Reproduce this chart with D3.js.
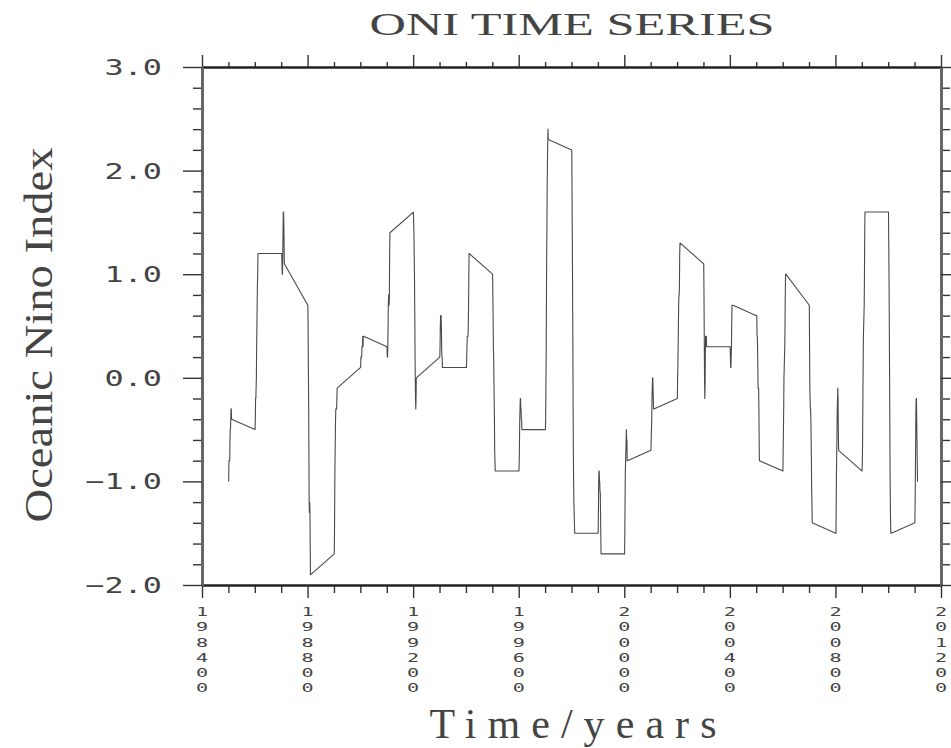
<!DOCTYPE html>
<html>
<head>
<meta charset="utf-8">
<script src="https://cdn.jsdelivr.net/npm/d3@7"></script>
<style>
  body { margin: 0; background: #fff; }
  svg { display: block; }
</style>
</head>
<body>
<div id="oniViz"></div>
<script>
// years plotted, one row of monthly ONI values per year (x = YYYYMM)
const years = [1985, 1986, 1987, 1988, 1989, 1990, 1991, 1992, 1993, 1994,
  1995, 1996, 1997, 1998, 1999, 2000, 2001, 2002, 2003, 2004,
  2005, 2006, 2007, 2008, 2009, 2010, 2011];

const oniMonthly = [
  [-1.0, -0.8, -0.8, -0.8, -0.8, -0.6, -0.5, -0.5, -0.4, -0.3, -0.3, -0.4], // 1985
  [-0.5, -0.4, -0.2, -0.2, -0.1, 0.0, 0.3, 0.5, 0.7, 0.9, 1.0, 1.2],
  [1.2, 1.2, 1.1, 1.0, 1.0, 1.2, 1.4, 1.6, 1.6, 1.5, 1.3, 1.1],
  [0.7, 0.5, 0.1, -0.2, -0.7, -1.2, -1.3, -1.2, -1.3, -1.6, -1.9, -1.9],
  [-1.7, -1.5, -1.1, -0.8, -0.6, -0.4, -0.3, -0.3, -0.3, -0.3, -0.2, -0.1],
  [0.1, 0.2, 0.2, 0.2, 0.2, 0.3, 0.3, 0.3, 0.4, 0.3, 0.4, 0.4], // 1990
  [0.3, 0.2, 0.2, 0.3, 0.5, 0.7, 0.8, 0.7, 0.7, 0.8, 1.2, 1.4],
  [1.6, 1.5, 1.4, 1.2, 1.0, 0.7, 0.3, 0.0, -0.2, -0.3, -0.2, 0.0],
  [0.2, 0.3, 0.5, 0.6, 0.6, 0.6, 0.5, 0.3, 0.2, 0.2, 0.1, 0.1],
  [0.1, 0.1, 0.2, 0.3, 0.4, 0.4, 0.4, 0.4, 0.5, 0.7, 1.0, 1.2],
  [1.0, 0.8, 0.6, 0.3, 0.2, 0.0, -0.2, -0.4, -0.7, -0.8, -0.9, -0.9], // 1995
  [-0.9, -0.8, -0.6, -0.4, -0.3, -0.2, -0.2, -0.3, -0.3, -0.4, -0.4, -0.5],
  [-0.5, -0.4, -0.1, 0.2, 0.7, 1.2, 1.5, 1.9, 2.1, 2.3, 2.4, 2.3],
  [2.2, 1.8, 1.4, 0.9, 0.4, -0.2, -0.7, -1.0, -1.2, -1.3, -1.4, -1.5],
  [-1.5, -1.3, -1.0, -0.9, -0.9, -1.0, -1.0, -1.1, -1.1, -1.3, -1.5, -1.7],
  [-1.7, -1.5, -1.2, -0.9, -0.8, -0.7, -0.6, -0.5, -0.6, -0.6, -0.8, -0.8], // 2000
  [-0.7, -0.6, -0.5, -0.4, -0.2, -0.1, 0.0, 0.0, -0.1, -0.2, -0.3, -0.3],
  [-0.2, 0.0, 0.1, 0.3, 0.5, 0.7, 0.8, 0.8, 0.9, 1.2, 1.3, 1.3],
  [1.1, 0.8, 0.4, 0.0, -0.2, -0.1, 0.2, 0.4, 0.4, 0.4, 0.4, 0.3],
  [0.3, 0.2, 0.1, 0.1, 0.2, 0.3, 0.5, 0.7, 0.7, 0.7, 0.7, 0.7],
  [0.6, 0.6, 0.4, 0.4, 0.3, 0.1, -0.1, -0.1, -0.1, -0.3, -0.6, -0.8], // 2005
  [-0.9, -0.7, -0.5, -0.3, 0.0, 0.1, 0.2, 0.3, 0.5, 0.8, 1.0, 1.0],
  [0.7, 0.3, -0.1, -0.2, -0.3, -0.3, -0.4, -0.6, -0.8, -1.1, -1.2, -1.4],
  [-1.5, -1.5, -1.2, -0.9, -0.7, -0.5, -0.3, -0.2, -0.1, -0.2, -0.5, -0.7],
  [-0.9, -0.8, -0.6, -0.2, 0.1, 0.4, 0.5, 0.6, 0.7, 1.0, 1.4, 1.6],
  [1.6, 1.3, 1.0, 0.6, 0.1, -0.4, -0.9, -1.2, -1.4, -1.5, -1.5, -1.5], // 2010
  [-1.4, -1.2, -0.9, -0.6, -0.3, -0.2, -0.2, -0.4, -0.6, -0.8, -1.0, -1.0]
];

const xMajorTicks = [198400, 198800, 199200, 199600, 200000, 200400, 200800, 201200];
const xTickLabels = ["198400", "198800", "199200", "199600", "200000", "200400", "200800", "201200"];
const yMajorTicks = [-2, -1, 0, 1, 2, 3];
const yTickLabels = ["\u22122.0", "\u22121.0", "0.0", "1.0", "2.0", "3.0"];

const margin = { top: 67, right: 10, bottom: 163, left: 202 },
  width = 941 - margin.left,
  height = 585 - margin.top;

const svg = d3.select("#oniViz")
  .append("svg")
  .attr("width", 951)
  .attr("height", 748);

const g = svg.append("g")
  .attr("transform", `translate(${margin.left},${margin.top})`);

const x = d3.scaleLinear().domain([198400, 201200]).range([0, width]);
const y = d3.scaleLinear().domain([-2, 3]).range([height, 0]);

// minor ticks: every year on x, every 0.2 on y
const xMinorTicks = d3.range(198400, 201201, 100).filter(t => !xMajorTicks.includes(t));
const yMinorTicks = d3.range(-20, 31, 2).map(v => v / 10).filter(v => !yMajorTicks.includes(v));

// flatten to (YYYYMM, value) points
const series = [];
years.forEach((yr, i) => {
  oniMonthly[i].forEach((v, m) => series.push({ t: yr * 100 + m + 1, v: v }));
});

g.append("path")
  .datum(series)
  .attr("fill", "none")
  .attr("stroke", "#4a4a4a")
  .attr("stroke-width", 1.1)
  .attr("stroke-linejoin", "round")
  .attr("d", d3.line().x(d => x(d.t)).y(d => y(d.v)));

// helper: draw an axis pair (minor + major ticks) with no labels
function tickAxis(axisFn, scale, minor, major, minorSize, majorSize, transform) {
  const a = g.append("g").attr("transform", transform);
  a.append("g").call(axisFn(scale).tickValues(minor).tickSize(minorSize).tickSizeOuter(0).tickFormat(""));
  a.append("g").call(axisFn(scale).tickValues(major).tickSize(majorSize).tickSizeOuter(0).tickFormat(""));
  a.selectAll("line").attr("stroke", "#333").attr("stroke-width", 1.4);
  a.selectAll(".domain").attr("stroke", "#222");
  return a;
}

const bottomAxis = tickAxis(d3.axisBottom, x, xMinorTicks, xMajorTicks, 8, 13, `translate(0,${height})`);
const topAxis = tickAxis(d3.axisTop, x, xMinorTicks, xMajorTicks, 5, 12, "translate(0,0)");
const leftAxis = tickAxis(d3.axisLeft, y, yMinorTicks, yMajorTicks, 9, 19, "translate(0,0)");
const rightAxis = tickAxis(d3.axisRight, y, yMinorTicks, yMajorTicks, 9, 16, `translate(${width},0)`);

bottomAxis.selectAll(".domain").attr("stroke-width", 2);
topAxis.selectAll(".domain").attr("stroke-width", 2);
leftAxis.selectAll(".domain").attr("stroke", "#666").attr("stroke-width", 3);
rightAxis.selectAll(".domain").attr("stroke", "#666").attr("stroke-width", 3);

// y tick labels, wide mono glyphs right-aligned left of the ticks
g.selectAll(".ylab")
  .data(yMajorTicks)
  .join("text")
  .attr("class", "ylab")
  .attr("transform", d => `translate(-40,${y(d) + 8}) scale(1.45,1)`)
  .attr("text-anchor", "end")
  .style("font-family", "'DejaVu Sans Mono', monospace")
  .style("font-size", "22px")
  .style("fill", "#444")
  .text((d, i) => yTickLabels[i]);

// x tick labels, characters stacked vertically
const xl = g.selectAll(".xlab")
  .data(xMajorTicks)
  .join("text")
  .attr("class", "xlab")
  .attr("transform", d => `translate(${x(d)},${height}) scale(1.55,1)`)
  .attr("text-anchor", "middle")
  .style("font-family", "'DejaVu Sans Mono', monospace")
  .style("font-size", "13px")
  .style("fill", "#444");

xl.each(function (d, i) {
  const chars = xTickLabels[i].split("");
  d3.select(this).selectAll("tspan")
    .data(chars)
    .join("tspan")
    .attr("x", 0)
    .attr("y", (c, k) => 31 + k * 15.3)
    .text(c => c);
});

// titles
svg.append("text")
  .attr("x", 572)
  .attr("y", 35)
  .attr("text-anchor", "middle")
  .attr("textLength", 405)
  .attr("lengthAdjust", "spacingAndGlyphs")
  .style("font-family", "'Liberation Serif', 'Times New Roman', serif")
  .style("font-size", "32px")
  .style("fill", "#444")
  .text("ONI TIME SERIES");

svg.append("text")
  .attr("transform", "translate(52,335) rotate(-90)")
  .attr("text-anchor", "middle")
  .attr("textLength", 375)
  .attr("lengthAdjust", "spacingAndGlyphs")
  .style("font-family", "'Liberation Serif', 'Times New Roman', serif")
  .style("font-size", "40px")
  .style("fill", "#444")
  .text("Oceanic Nino Index");

svg.append("text")
  .attr("x", 573)
  .attr("y", 738)
  .attr("text-anchor", "middle")
  .attr("textLength", 287)
  .style("font-family", "'Liberation Serif', 'Times New Roman', serif")
  .style("font-size", "42px")
  .style("fill", "#444")
  .text("Time/years");
</script>
</body>
</html>
